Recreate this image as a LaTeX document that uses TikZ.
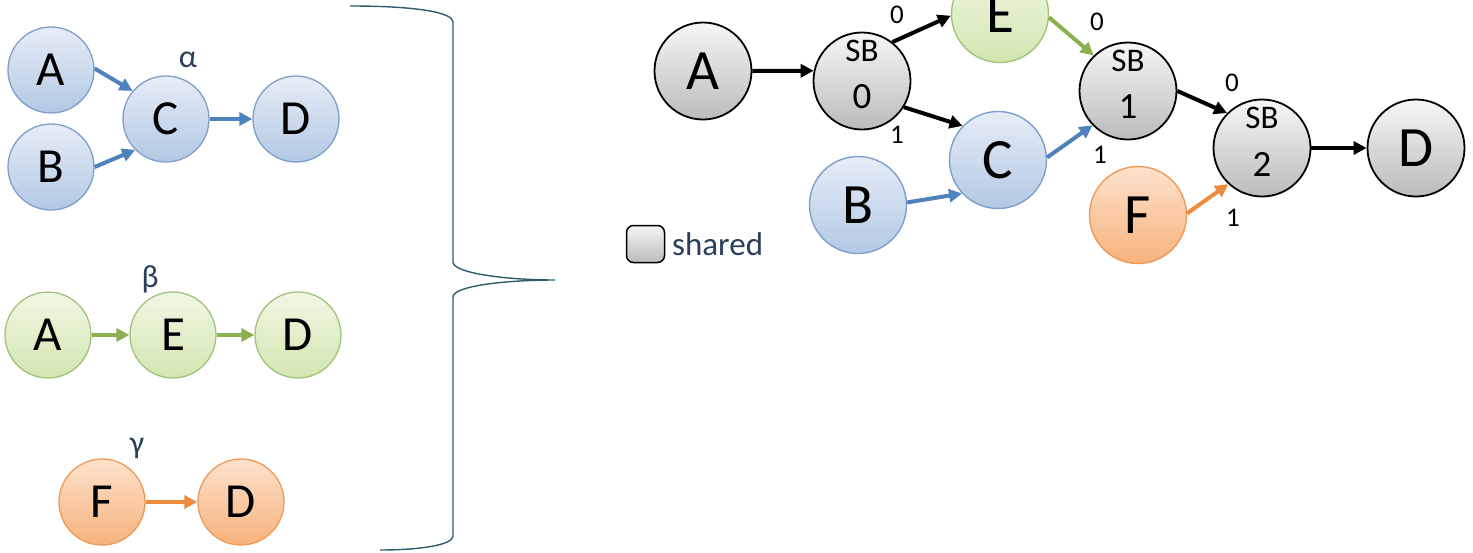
\documentclass[tikz,border=0pt]{standalone}
\usepackage{fontspec}
\setmainfont{Carlito}
\usetikzlibrary{arrows.meta}
\definecolor{bluetop}{HTML}{E6EDF7}
\definecolor{bluebot}{HTML}{B3C8E3}
\definecolor{blueline}{HTML}{7F9FCB}
\definecolor{bluearr}{HTML}{4F81BD}
\definecolor{greentop}{HTML}{F0F7E4}
\definecolor{greenbot}{HTML}{D2E6B0}
\definecolor{greenline}{HTML}{A2C47A}
\definecolor{greenarr}{HTML}{8BB050}
\definecolor{orangetop}{HTML}{FDE2CC}
\definecolor{orangebot}{HTML}{F7B27C}
\definecolor{orangeline}{HTML}{EE9A58}
\definecolor{orangearr}{HTML}{ED8B3E}
\definecolor{graytop}{HTML}{F6F6F6}
\definecolor{graybot}{HTML}{BBBBBB}
\definecolor{labtext}{HTML}{2B3F5C}
\definecolor{bracecol}{HTML}{2E5C6E}
\tikzset{
  circ/.style={circle,inner sep=0pt,text=black},
  small/.style={circ,minimum size=86pt,font=\fontsize{49}{51}\selectfont,line width=1.3pt},
  big/.style={circ,minimum size=97pt,font=\fontsize{57}{59}\selectfont},
  bluen/.style={draw=blueline,top color=bluetop,bottom color=bluebot},
  greenn/.style={draw=greenline,top color=greentop,bottom color=greenbot},
  orangen/.style={draw=orangeline,top color=orangetop,bottom color=orangebot},
  grayn/.style={draw=black,line width=1.8pt,top color=graytop,bottom color=graybot},
  colbig/.style={big,line width=1.4pt},
  sbtop/.style={font=\fontsize{33}{35}\selectfont,inner sep=0pt},
  sbnum/.style={font=\fontsize{37}{39}\selectfont,inner sep=0pt},
  elab/.style={font=\fontsize{27}{29}\selectfont,inner sep=0pt},
  greek/.style={font=\fontsize{32}{34}\selectfont,text=labtext,inner sep=0pt},
  arr/.style={line width=4pt,-{Triangle[length=13pt,width=13pt]}},
  barr/.style={arr,draw=bluearr,fill=bluearr},
  garr/.style={arr,draw=greenarr,fill=greenarr},
  oarr/.style={arr,draw=orangearr,fill=orangearr},
  karr/.style={arr,draw=black,fill=black},
}
\begin{document}
\begin{tikzpicture}[x=1pt,y=-1pt]
\useasboundingbox (0,0) rectangle (1473,552);
\clip (0,0) rectangle (1473,552);
\fill[white] (0,0) rectangle (1473,552);

% ---- alpha ----
\node[small,bluen] (aA) at (51,70) {A};
\node[small,bluen] (aB) at (51,167) {B};
\node[small,bluen] (aC) at (166,119) {C};
\node[small,bluen] (aD) at (296,119) {D};
\node[greek] (alpha) at (188,60) {α};
\draw[barr] (aA.2) -- (aC.140);
\draw[barr] (aB.0) -- (aC.225);
\draw[barr] (aC.east) -- (aD.west);

% ---- beta ----
\node[small,greenn] (bA) at (48,335) {A};
\node[small,greenn] (bE) at (173,335) {E};
\node[small,greenn] (bD) at (298,335) {D};
\node[greek] (beta) at (150,279) {β};
\draw[garr] (bA.east) -- (bE.west);
\draw[garr] (bE.east) -- (bD.west);

% ---- gamma ----
\node[small,orangen] (gF) at (102,502) {F};
\node[small,orangen] (gD) at (241,502) {D};
\node[greek] (gamma) at (137,448) {γ};
\draw[oarr] (gF.east) -- (gD.west);

% ---- brace ----
\draw[bracecol,line width=1.4pt]
  (350,6) .. controls (420,6) and (453,13) .. (453,22)
  -- (453,262) .. controls (453,273) and (505,280) .. (555,280)
  .. controls (505,280) and (453,286) .. (453,297)
  -- (453,536) .. controls (453,545) and (420,550) .. (380,550);

% ---- right graph ----
\node[big,grayn] (A) at (703,71) {A};
\node[big,grayn] (sb0) at (862,81) {};
\node[sbtop] (sb0t) at ([yshift=30pt]sb0.center) {SB};
\node[sbnum] (sb0n) at ([yshift=-16pt]sb0.center) {0};
\node[colbig,greenn] (E) at (1000,14) {E};
\node[colbig,bluen] (C) at (998,160) {C};
\node[colbig,bluen] (B) at (858,205) {B};
\node[big,grayn] (sb1) at (1128,91) {};
\node[sbtop] (sb1t) at ([yshift=30pt]sb1.center) {SB};
\node[sbnum] (sb1n) at ([yshift=-16pt]sb1.center) {1};
\node[big,grayn] (sb2) at (1262,148) {};
\node[sbtop] (sb2t) at ([yshift=30pt]sb2.center) {SB};
\node[sbnum] (sb2n) at ([yshift=-16pt]sb2.center) {2};
\node[colbig,orangen] (F) at (1138,215) {F};
\node[big,grayn] (D) at (1416,148) {D};

\draw[karr] (A.east) -- (sb0.168);
\draw[karr] (sb0.52) -- (E.182);
\draw[karr] (sb0.-32) -- (C.136);
\draw[barr] (B.3) -- (C.223);
\draw[garr] (E.-4) -- (sb1.134);
\draw[barr] (C.3) -- (sb1.224);
\draw[karr] (sb1.0) -- (sb2.135);
\draw[oarr] (F.2) -- (sb2.227);
\draw[karr] (sb2.east) -- (D.west);

\node[elab] (l1) at (897,15) {0};
\node[elab] (l2) at (897,135) {1};
\node[elab] (l3) at (1097,22) {0};
\node[elab] (l4) at (1100,155) {1};
\node[elab] (l5) at (1232,83) {0};
\node[elab] (l6) at (1233,218) {1};

% legend
\node[draw=black,line width=1.5pt,top color=graytop,bottom color=graybot,rounded corners=7pt,minimum width=38pt,minimum height=37pt,inner sep=0pt] (key) at (645.5,244) {};
\node[anchor=west,font=\fontsize{33}{35}\selectfont,text=labtext,inner sep=0pt] (keytext) at (672,244) {shared};
\end{tikzpicture}
\end{document}
